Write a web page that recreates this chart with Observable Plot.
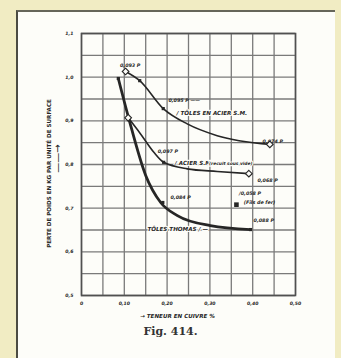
<!DOCTYPE html>
<html><head><meta charset="utf-8">
<script src="https://cdn.jsdelivr.net/npm/d3@7"></script>
<script src="https://cdn.jsdelivr.net/npm/@observablehq/plot@0.6"></script>
<style>
html,body{margin:0;padding:0;background:#f1ecc3;width:341px;height:358px;overflow:hidden;}
#panel{position:absolute;left:16px;top:10px;width:319px;height:348px;background:#fdfdf9;border-left:2px solid #4b4b42;border-top:2px solid #66665a;box-sizing:border-box;}
#chart{position:absolute;left:0;top:0;}
</style></head><body><div id="panel"></div><div id="chart"></div>
<script>
// axes
const xTicks = [0, 0.1, 0.2, 0.3, 0.4, 0.5];
const xTickLabels = ["0", "0,10", "0,20", "0,30", "0,40", "0,50"];
const yTicks = [0.5, 0.6, 0.7, 0.8, 0.9, 1.0, 1.1];
const yTickLabels = ["0,5", "0,6", "0,7", "0,8", "0,9", "1,0", "1,1"];
const xGrid = [0, 0.05, 0.1, 0.15, 0.2, 0.25, 0.3, 0.35, 0.4, 0.45, 0.5];
const yGrid = [0.5, 0.55, 0.6, 0.65, 0.7, 0.75, 0.8, 0.85, 0.9, 0.95, 1.0, 1.05, 1.1];
const xTitle = "→ TENEUR EN CUIVRE %";
const yTitle = "PERTE DE POIDS EN KG PAR UNITÉ DE SURFACE";
const yArrow = "——→";
const figCaption = "Fig. 414.";

// series: Tôles en acier S.M.
const smX = [0.103, 0.136, 0.191, 0.247, 0.317, 0.44];
const smY = [1.013, 0.992, 0.928, 0.893, 0.866, 0.846];
// series: Acier S.M. (recuit)
const recX = [0.109, 0.138, 0.169, 0.192, 0.247, 0.317, 0.391];
const recY = [0.907, 0.870, 0.828, 0.805, 0.790, 0.784, 0.779];
// series: Tôles Thomas
const thX = [0.086, 0.110, 0.150, 0.185, 0.224, 0.301, 0.395];
const thY = [0.997, 0.907, 0.775, 0.713, 0.683, 0.660, 0.651];

// markers
const openX = [0.103, 0.44, 0.109, 0.391];
const openY = [1.013, 0.846, 0.907, 0.779];
const fillX = [0.136, 0.191, 0.192, 0.190, 0.395, 0.086];
const fillY = [0.992, 0.928, 0.805, 0.713, 0.651, 0.997];
const isoX = [0.362];
const isoY = [0.708];

// annotations
const numText = ["0,093 P", "0,095 P ——", "0,074 P", "0,097 P", "0,068 P", "0,084 P", "/0,058 P", "(Fils de fer)", "0,088 P"];
const numX = [0.090, 0.203, 0.423, 0.178, 0.411, 0.208, 0.368, 0.379, 0.402];
const numY = [1.026, 0.947, 0.853, 0.830, 0.763, 0.725, 0.734, 0.713, 0.672];
const nameText = ["/ TÔLES EN ACIER S.M.", "/ ACIER S.M.", "(recuit sous vide)", "TÔLES THOMAS / —"];
const nameX = [0.222, 0.218, 0.298, 0.154];
const nameY = [0.917, 0.802, 0.802, 0.651];
const nameSize = [5.6, 5.6, 4.4, 5.6];

const pts = (xs, ys) => xs.map((x, i) => ({x, y: ys[i]}));
const ink = "#262626";

const chart = Plot.plot({
  width: 341, height: 358,
  marginLeft: 81, marginRight: 46, marginTop: 33, marginBottom: 63,
  style: {background: "transparent", fontFamily: "DejaVu Sans", color: ink},
  x: {domain: [0, 0.5], axis: null},
  y: {domain: [0.5, 1.1], axis: null},
  marks: [
    Plot.gridX(xGrid, {stroke: "#7a7a7a", strokeOpacity: 1, strokeWidth: 1.3}),
    Plot.gridY(yGrid, {stroke: "#7a7a7a", strokeOpacity: 1, strokeWidth: 1.3}),
    Plot.frame({stroke: "#505050", strokeWidth: 1.6}),
    Plot.axisX(xTicks, {tickSize: 0, tickPadding: 6, fontSize: 4.6, fontStyle: "italic", fontWeight: "bold", label: null,
      tickFormat: d => xTickLabels[xTicks.indexOf(d)]}),
    Plot.axisY(yTicks, {tickSize: 0, tickPadding: 8, fontSize: 4.6, fontStyle: "italic", fontWeight: "bold", label: null,
      tickFormat: d => yTickLabels[yTicks.indexOf(d)]}),
    Plot.text([xTitle], {frameAnchor: "bottom", dx: -11, dy: 22, fontSize: 5.6, fontStyle: "italic", fontWeight: "bold", fill: ink}),
    Plot.text([figCaption], {frameAnchor: "bottom", dx: -18, dy: 39, fontSize: 11, fontFamily: "DejaVu Serif", fontWeight: "bold", fill: "#333"}),
    Plot.text([yTitle], {frameAnchor: "left", textAnchor: "middle", dx: -32, dy: 9, rotate: -90, fontSize: 5.6, fontWeight: "bold", fill: ink}),
    Plot.text([yArrow], {frameAnchor: "left", textAnchor: "middle", dx: -24, dy: -6, rotate: -90, fontSize: 10, fontFamily: "DejaVu Sans", letterSpacing: "-1px", fill: ink}),
    // curve labels with white halo
    Plot.text(pts(nameX, nameY).map((d, i) => ({...d, t: nameText[i], s: nameSize[i]})),
      {x: "x", y: "y", text: "t", fontSize: d => d.s, textAnchor: "start", fontStyle: "italic", fontWeight: "bold",
       fill: ink, stroke: "#fdfdf9", strokeWidth: 2.2, paintOrder: "stroke"}),
    Plot.text(pts(numX, numY).map((d, i) => ({...d, t: numText[i]})),
      {x: "x", y: "y", text: "t", fontSize: 4.8, textAnchor: "start", fontStyle: "italic", fontWeight: "bold", fill: ink}),
    // curves
    Plot.line(pts(smX, smY), {x: "x", y: "y", curve: "monotone-x", stroke: ink, strokeWidth: 1.6}),
    Plot.line(pts(recX, recY), {x: "x", y: "y", curve: "monotone-x", stroke: ink, strokeWidth: 1.6}),
    Plot.line(pts(thX, thY), {x: "x", y: "y", curve: "monotone-x", stroke: ink, strokeWidth: 2.8}),
    Plot.dot(pts(fillX, fillY), {x: "x", y: "y", symbol: "square", r: 1.8, fill: ink}),
    Plot.dot(pts(isoX, isoY), {x: "x", y: "y", symbol: "square", r: 2.6, fill: ink}),
    Plot.dot(pts(openX, openY), {x: "x", y: "y", symbol: "diamond2", r: 3, fill: "#fdfdf9", stroke: ink, strokeWidth: 1.1})
  ]
});
document.getElementById("chart").appendChild(chart);
</script></body></html>
